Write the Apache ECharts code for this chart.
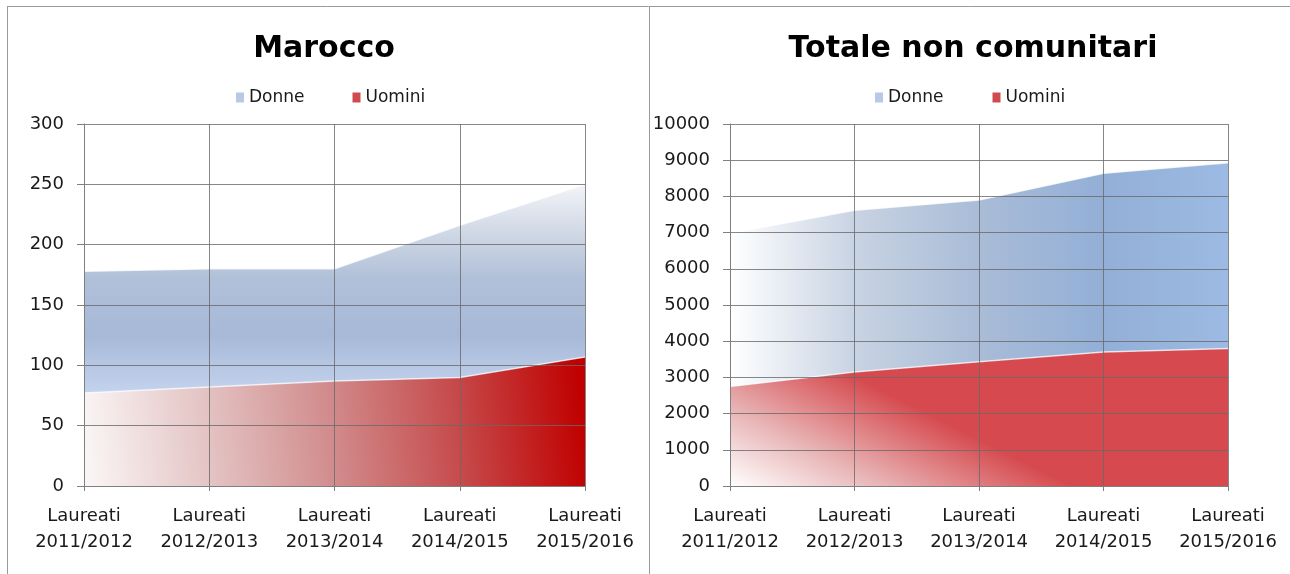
<!DOCTYPE html>
<html>
<head>
<meta charset="utf-8">
<script src="https://cdn.jsdelivr.net/npm/echarts@6/dist/echarts.min.js"></script>
<style>
  html, body { margin: 0; padding: 0; background: #fff; }
  #chart { width: 1290px; height: 574px; }
</style>
</head>
<body>
<div id="chart"></div>
<script>
  // anni accademici
  const categories = ['Laureati\n2011/2012', 'Laureati\n2012/2013', 'Laureati\n2013/2014', 'Laureati\n2014/2015', 'Laureati\n2015/2016']
  const seriesNames = ['Donne', 'Uomini']

  // Marocco
  const maroccoUomini = [77, 82, 87, 90, 107]
  const maroccoDonne = [101, 98, 93, 126, 143]
  const maroccoMax = 300
  const maroccoStep = 50

  // Totale non comunitari
  const totaleUomini = [2750, 3150, 3430, 3700, 3800]
  const totaleDonne = [4230, 4470, 4470, 4940, 5130]
  const totaleMax = 10000
  const totaleStep = 1000

  const font = 'DejaVu Sans'
  const gridColor = 'rgba(105,105,105,0.8)'

  function grad(x, y, x2, y2, stops) {
    return new echarts.graphic.LinearGradient(x, y, x2, y2,
      stops.map(s => ({ offset: s[0], color: s[1] })))
  }

  function xAxis(idx) {
    return {
      type: 'category',
      gridIndex: idx,
      boundaryGap: false,
      data: categories,
      z: 5,
      axisLine: { lineStyle: { color: '#7f7f7f' } },
      axisTick: { show: true, length: 5, lineStyle: { color: '#7f7f7f' } },
      splitLine: { show: true, lineStyle: { color: gridColor } },
      axisLabel: {
        fontFamily: font,
        fontSize: 18,
        lineHeight: 26,
        color: '#1a1a1a',
        margin: 17,
        interval: 0
      }
    }
  }

  function yAxis(idx, max, step) {
    return {
      type: 'value',
      gridIndex: idx,
      min: 0,
      max: max,
      interval: step,
      z: 5,
      axisLine: { show: true, lineStyle: { color: '#7f7f7f' } },
      axisTick: { show: true, length: 7, lineStyle: { color: '#7f7f7f' } },
      splitLine: { show: true, lineStyle: { color: gridColor } },
      axisLabel: {
        fontFamily: font,
        fontSize: 18,
        color: '#1a1a1a',
        margin: 20,
        formatter: v => String(v)
      }
    }
  }

  function legend(left, gap) {
    return {
      left: left,
      top: 89,
      padding: 0,
      itemWidth: 8,
      itemHeight: 10,
      itemGap: gap,
      icon: 'rect',
      textStyle: { fontFamily: font, fontSize: 17, color: '#1a1a1a' },
      data: [
        { name: 'Donne', itemStyle: { color: '#b8c8e6' } },
        { name: 'Uomini', itemStyle: { color: '#d04a4f' } }
      ]
    }
  }

  const chart = echarts.init(document.getElementById('chart'))
  const option = {
    animation: false,
    title: [
      {
        text: 'Marocco',
        left: 319,
        top: 29,
        textAlign: 'center',
        textStyle: { fontFamily: font, fontSize: 30, fontWeight: 'bold', color: '#000' }
      },
      {
        text: 'Totale non comunitari',
        left: 968,
        top: 29,
        textAlign: 'center',
        textStyle: { fontFamily: font, fontSize: 30, fontWeight: 'bold', color: '#000' }
      }
    ],
    legend: [legend(236, 48), legend(875, 49)],
    grid: [
      { left: 84, top: 124, width: 501, height: 362 },
      { left: 730, top: 124, width: 498, height: 362 }
    ],
    xAxis: [xAxis(0), xAxis(1)],
    yAxis: [yAxis(0, maroccoMax, maroccoStep), yAxis(1, totaleMax, totaleStep)],
    series: [
      {
        name: seriesNames[1],
        type: 'line',
        stack: 'm',
        xAxisIndex: 0,
        yAxisIndex: 0,
        symbol: 'none',
        data: maroccoUomini,
        lineStyle: { color: 'rgba(255,255,255,0.7)', width: 1.5 },
        areaStyle: {
          opacity: 1,
          color: grad(0, 1, 1, 0.6, [
            [0, '#fbf7f7'], [0.25, '#e4c4c4'], [0.5, '#d18b8c'], [0.75, '#c64a4b'], [1, '#c00000']
          ])
        }
      },
      {
        name: seriesNames[0],
        type: 'line',
        stack: 'm',
        xAxisIndex: 0,
        yAxisIndex: 0,
        symbol: 'none',
        data: maroccoDonne,
        lineStyle: { color: 'rgba(255,255,255,0.8)', width: 1.5 },
        areaStyle: {
          opacity: 1,
          color: grad(0, 0, 0, 1, [
            [0, '#f2f4f7'], [0.3, '#c6d0e1'], [0.45, '#b1c0d9'], [0.72, '#a7b9d8'], [1, '#c4d3ee']
          ])
        }
      },
      {
        name: seriesNames[1],
        type: 'line',
        stack: 't',
        xAxisIndex: 1,
        yAxisIndex: 1,
        symbol: 'none',
        data: totaleUomini,
        lineStyle: { color: 'rgba(255,255,255,0.7)', width: 1.5 },
        areaStyle: {
          opacity: 1,
          color: grad(0, 1, 0.14, 0, [
            [0, '#ffffff'], [0.45, '#e8b5b6'], [1, '#d64a4f']
          ])
        }
      },
      {
        name: seriesNames[0],
        type: 'line',
        stack: 't',
        xAxisIndex: 1,
        yAxisIndex: 1,
        symbol: 'none',
        data: totaleDonne,
        lineStyle: { color: 'rgba(255,255,255,0.8)', width: 1.5 },
        areaStyle: {
          opacity: 1,
          color: grad(0, 0, 1, 0, [
            [0, '#ffffff'], [0.25, '#c8d3e3'], [0.5, '#a9bcd7'], [0.75, '#93afd7'], [1, '#9cbae3']
          ])
        }
      }
    ],
    graphic: [
      { type: 'line', shape: { x1: 7, y1: 6.5, x2: 1290, y2: 6.5 }, style: { stroke: '#9a9a9a', lineWidth: 1 } },
      { type: 'line', shape: { x1: 7.5, y1: 6, x2: 7.5, y2: 574 }, style: { stroke: '#9a9a9a', lineWidth: 1 } },
      { type: 'line', shape: { x1: 649.5, y1: 6, x2: 649.5, y2: 574 }, style: { stroke: '#9a9a9a', lineWidth: 1 } }
    ]
  }
  chart.setOption(option)
</script>
</body>
</html>
